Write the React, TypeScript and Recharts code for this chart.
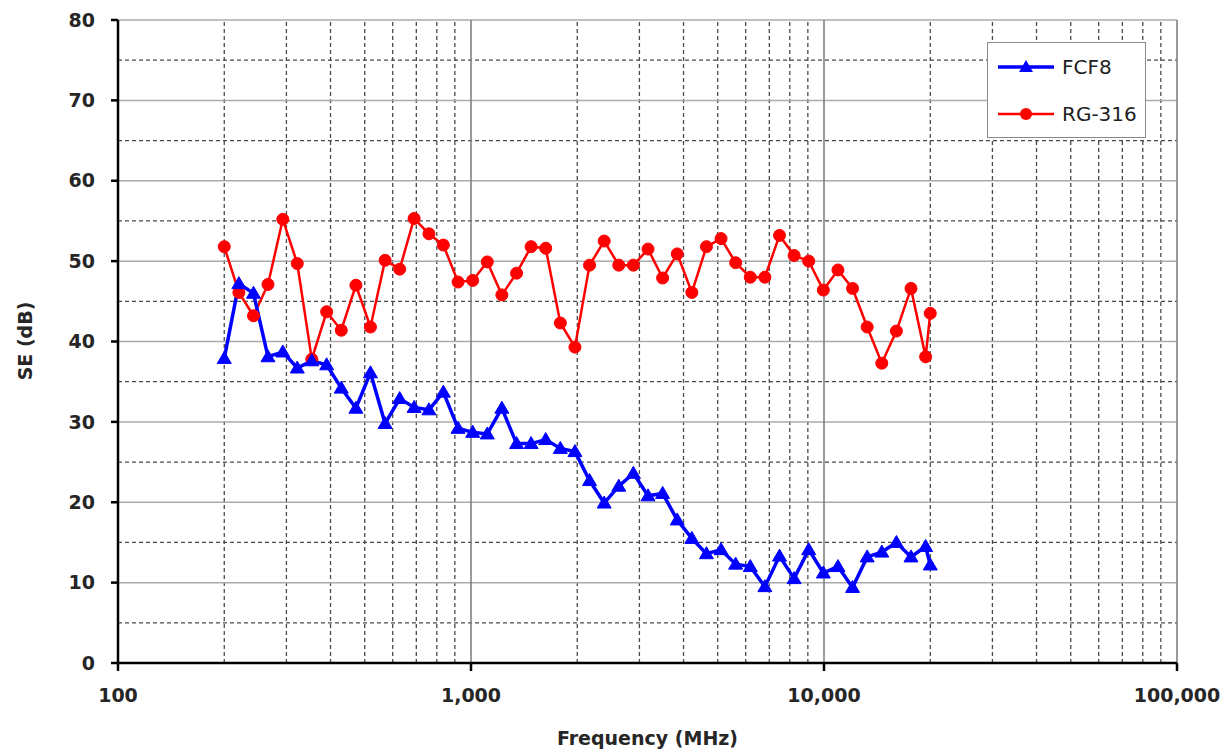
import React from 'react'
import { LineChart, Line, XAxis, YAxis, ReferenceLine } from 'recharts'

// frequencies (MHz)
const freqs = [
  200, 220, 242, 266, 293, 322, 354, 390, 429, 472,
  519, 571, 628, 690, 760, 835, 919, 1011, 1112, 1223,
  1346, 1480, 1628, 1791, 1970, 2167, 2384, 2622, 2884, 3173,
  3490, 3839, 4223, 4645, 5109, 5620, 6182, 6801, 7481, 8229,
  9052, 9957, 10953, 12048, 13253, 14578, 16036, 17639, 19403, 20000,
]

const fcf8 = [
  37.9, 47.2, 46.0, 38.1, 38.7, 36.7, 37.6, 37.1, 34.2, 31.7,
  36.1, 29.8, 32.9, 31.8, 31.5, 33.7, 29.2, 28.7, 28.5, 31.7,
  27.3, 27.3, 27.8, 26.7, 26.3, 22.7, 19.9, 22.0, 23.6, 20.8,
  21.1, 17.8, 15.5, 13.6, 14.1, 12.3, 12.0, 9.5, 13.3, 10.5,
  14.1, 11.2, 12.0, 9.4, 13.2, 13.8, 15.0, 13.2, 14.5, 12.2,
]

const rg316 = [
  51.8, 46.1, 43.2, 47.1, 55.2, 49.7, 37.8, 43.7, 41.4, 47.0,
  41.8, 50.1, 49.0, 55.3, 53.4, 52.0, 47.4, 47.6, 49.9, 45.8,
  48.5, 51.8, 51.6, 42.3, 39.3, 49.5, 52.5, 49.5, 49.5, 51.5,
  47.9, 50.9, 46.1, 51.8, 52.8, 49.8, 48.0, 48.0, 53.2, 50.7,
  50.0, 46.4, 48.9, 46.6, 41.8, 37.3, 41.3, 46.6, 38.1, 43.5,
]

const xTicks = [100, 1000, 10000, 100000]
const xMinor = [
  200, 300, 400, 500, 600, 700, 800, 900,
  2000, 3000, 4000, 5000, 6000, 7000, 8000, 9000,
  20000, 30000, 40000, 50000, 60000, 70000, 80000, 90000,
]
const yTicks = [0, 10, 20, 30, 40, 50, 60, 70, 80]
const yMinor = [5, 15, 25, 35, 45, 55, 65, 75]

const data = freqs.map((f, i) => ({ f, fcf8: fcf8[i], rg316: rg316[i] }))

const font = '"DejaVu Sans", sans-serif'
const BLUE = '#0000ff'
const RED = '#ff0000'

function TriangleDot(props: any) {
  const { cx, cy } = props
  if (cx == null || cy == null) return null
  return <path d={`M${cx},${cy - 7} L${cx + 7},${cy + 5} L${cx - 7},${cy + 5} Z`} fill={BLUE} stroke={BLUE} strokeWidth={1} />
}

function LegendBox() {
  const row = (name: string, color: string, marker: 'tri' | 'dot') => (
    <div style={{ display: 'flex', alignItems: 'center', height: 47 }}>
      <svg width={62} height={20} style={{ marginLeft: 8 }}>
        <line x1={2} y1={10} x2={58} y2={10} stroke={color} strokeWidth={marker === 'tri' ? 3.5 : 2.5} />
        {marker === 'tri'
          ? <path d="M30,3 L37,15 L23,15 Z" fill={color} />
          : <circle cx={30} cy={10} r={6} fill={color} />}
      </svg>
      <span style={{ marginLeft: 4, fontSize: 20, color: '#222' }}>{name}</span>
    </div>
  )
  return (
    <div style={{
      position: 'absolute', left: 987, top: 42, width: 159, height: 96,
      border: '1.5px solid #8a8a8a', background: '#fff', boxSizing: 'border-box',
      fontFamily: font,
    }}>
      {row('FCF8', BLUE, 'tri')}
      {row('RG-316', RED, 'dot')}
    </div>
  )
}

export default function App() {
  const tickStyle = { fontSize: 19, fontWeight: 700, fill: '#262626', fontFamily: font }
  return (
    <div style={{ position: 'absolute', left: 0, top: 0, width: 1232, height: 753, background: '#fff' }}>
      <LineChart width={1232} height={753} data={data} margin={{ top: 20, right: 55, bottom: 0, left: 0 }}>
        <XAxis
          dataKey="f" type="number" scale="log" domain={[100, 100000]} ticks={xTicks}
          allowDataOverflow height={90}
          tickFormatter={(v: number) => v.toLocaleString('en-US')}
          tick={tickStyle} tickSize={8} tickMargin={18}
          axisLine={{ stroke: '#000', strokeWidth: 2.5 }} tickLine={{ stroke: '#000', strokeWidth: 2.5 }}
          label={{ value: 'Frequency (MHz)', position: 'insideBottom', offset: 8, style: { fontSize: 19, fontWeight: 700, fill: '#262626', fontFamily: font } }}
        />
        <YAxis
          type="number" domain={[0, 80]} ticks={yTicks} width={118}
          tick={tickStyle} tickSize={7} tickMargin={16}
          axisLine={{ stroke: '#000', strokeWidth: 2.5 }} tickLine={{ stroke: '#000', strokeWidth: 2.5 }}
          label={() => (
            <text x={25} y={341} transform="rotate(-90 25 341)" textAnchor="middle" dominantBaseline="central"
              style={{ fontSize: 19, fontWeight: 700, fill: '#262626', fontFamily: font }}>SE (dB)</text>
          )}
        />
        {yMinor.map((v) => (
          <ReferenceLine key={`ym${v}`} y={v} stroke="#4a4a4a" strokeWidth={1.3} strokeDasharray="4 3" />
        ))}
        {xMinor.map((v) => (
          <ReferenceLine key={`xm${v}`} x={v} stroke="#4a4a4a" strokeWidth={1.3} strokeDasharray="4 3" />
        ))}
        {yTicks.filter((v) => v > 0).map((v) => (
          <ReferenceLine key={`y${v}`} y={v} stroke="#ababab" strokeWidth={1.5} />
        ))}
        {xTicks.filter((v) => v > 100).map((v) => (
          <ReferenceLine key={`x${v}`} x={v} stroke="#7a7a7a" strokeWidth={1.5} />
        ))}
        <Line dataKey="rg316" stroke={RED} strokeWidth={2.5} isAnimationActive={false}
          dot={{ r: 6, fill: RED, stroke: RED, strokeWidth: 1 }} activeDot={false} />
        <Line dataKey="fcf8" stroke={BLUE} strokeWidth={3.5} isAnimationActive={false}
          dot={<TriangleDot />} activeDot={false} />
      </LineChart>
      <LegendBox />
    </div>
  )
}
